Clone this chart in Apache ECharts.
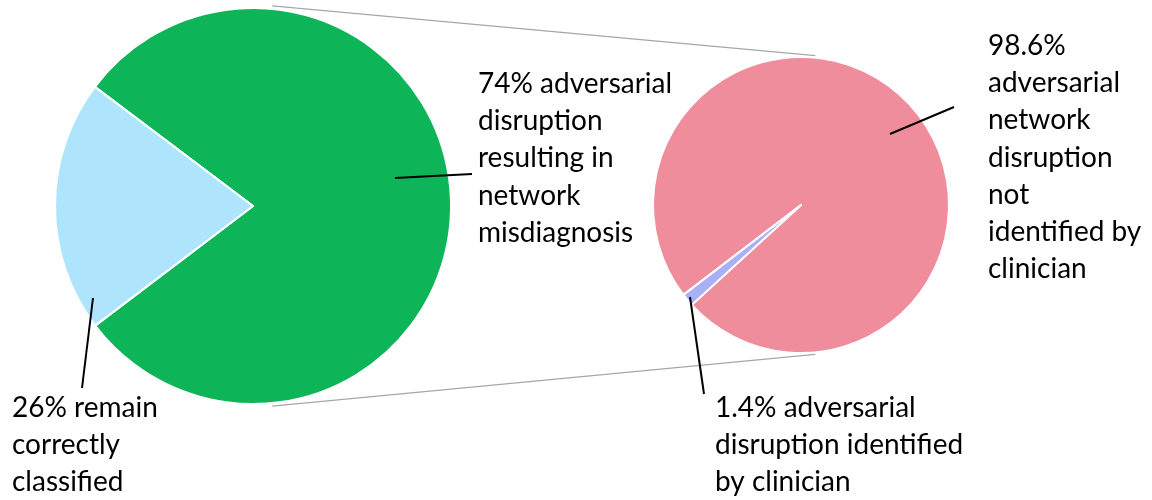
<!DOCTYPE html>
<html>
<head>
<meta charset="utf-8">
<script src="https://cdn.jsdelivr.net/npm/echarts@6/dist/echarts.min.js"></script>
<style>
  html, body { margin: 0; padding: 0; background: #fff; }
  #pie { width: 1152px; height: 500px; }
</style>
</head>
<body>
<div id="pie"></div>
<script>
// primary pie (slice sizes as drawn) and the breakdown pie
const mainNames = ['misdiagnosis', 'correct']
const mainValues = [79.4, 20.6]
const mainLabels = [
  '74% adversarial\ndisruption\nresulting in\nnetwork\nmisdiagnosis',
  '26% remain\ncorrectly\nclassified'
]
const subNames = ['not identified', 'identified']
const subValues = [98.6, 1.4]
const subLabels = [
  '98.6%\nadversarial\nnetwork\ndisruption\nnot\nidentified by\nclinician',
  '1.4% adversarial\ndisruption identified\nby clinician'
]

const mainColors = ['#0db558', '#afe5fc']
const subColors = ['#f08d9d', '#aab0f8']

const mainPie = { cx: 253, cy: 206, r: 198, start: 143 }
const subPie = { cx: 801, cy: 205, r: 148, start: 217.4 }

// label text boxes + leader lines
const labelBoxes = [
  { text: mainLabels[0], x: 478, y: 65, line: [[395, 178], [472, 174]] },
  { text: mainLabels[1], x: 12, y: 389, line: [[93, 298], [82, 388]] },
  { text: subLabels[0], x: 988, y: 27, line: [[890, 134], [954, 107]] },
  { text: subLabels[1], x: 715, y: 389, line: [[690, 297], [704, 394]] }
]

const font = '28px Lato'
const lh = 37.3

const chart = echarts.init(document.getElementById('pie'), null, { renderer: 'canvas' })

function pieSeries (p, names, values, colors) {
  return {
    type: 'pie',
    center: [p.cx, p.cy],
    radius: p.r,
    startAngle: p.start,
    silent: true,
    animation: false,
    label: { show: false },
    labelLine: { show: false },
    itemStyle: { borderColor: '#fff', borderWidth: 2 },
    data: values.map((v, i) => ({ name: names[i], value: v, itemStyle: { color: colors[i] } }))
  }
}

// connector lines between the pies, at the top and bottom
function edgePt (p, deg, pad) {
  const a = deg * Math.PI / 180
  return [p.cx + (p.r + pad) * Math.cos(a), p.cy - (p.r + pad) * Math.sin(a)]
}
const graphics = []
;[84.5, -84.5].forEach(function (deg) {
  const a = edgePt(mainPie, deg, 3)
  const b = edgePt(subPie, deg, 2)
  graphics.push({
    type: 'line',
    silent: true,
    shape: { x1: a[0], y1: a[1], x2: b[0], y2: b[1] },
    style: { stroke: '#a6a6a6', lineWidth: 1.2 }
  })
})
labelBoxes.forEach(function (lb) {
  graphics.push({
    type: 'line',
    silent: true,
    z: 10,
    shape: { x1: lb.line[0][0], y1: lb.line[0][1], x2: lb.line[1][0], y2: lb.line[1][1] },
    style: { stroke: '#000', lineWidth: 2 }
  })
  graphics.push({
    type: 'text',
    silent: true,
    x: lb.x,
    y: lb.y,
    style: { text: lb.text, font: font, lineHeight: lh, fill: '#000', verticalAlign: 'top' }
  })
})

chart.setOption({
  backgroundColor: '#fff',
  series: [
    pieSeries(mainPie, mainNames, mainValues, mainColors),
    pieSeries(subPie, subNames, subValues, subColors)
  ],
  graphic: graphics
})
</script>
</body>
</html>
